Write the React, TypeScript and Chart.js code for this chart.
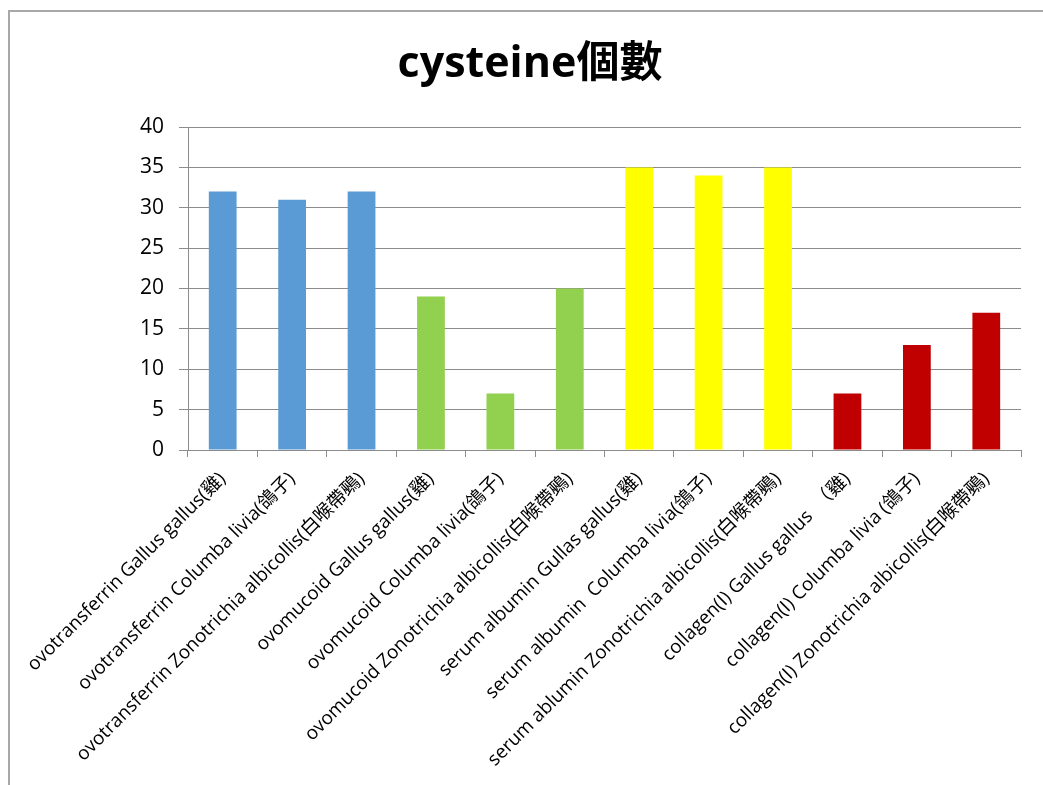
import React, { useEffect, useRef } from "react";
import { Chart, registerables } from "chart.js";

Chart.register(...registerables);

// Protein / species categories along the x axis
const categories: string[] = [
  "ovotransferrin Gallus gallus(雞)",
  "ovotransferrin Columba livia(鴿子)",
  "ovotransferrin Zonotrichia albicollis(白喉帶鵐)",
  "ovomucoid Gallus gallus(雞)",
  "ovomucoid Columba livia(鴿子)",
  "ovomucoid Zonotrichia albicollis(白喉帶鵐)",
  "serum albumin Gullas gallus(雞)",
  "serum albumin  Columba livia(鴿子)",
  "serum ablumin Zonotrichia albicollis(白喉帶鵐)",
  "collagen(I) Gallus gallus  （雞)",
  "collagen(I) Columba livia (鴿子)",
  "collagen(I) Zonotrichia albicollis(白喉帶鵐)",
];

// Number of cysteine residues per protein
const cysteineCounts: number[] = [32, 31, 32, 19, 7, 20, 35, 34, 35, 7, 13, 17];

// Protein group of each bar (0 ovotransferrin, 1 ovomucoid, 2 serum albumin, 3 collagen)
const proteinGroup: number[] = [0, 0, 0, 1, 1, 1, 2, 2, 2, 3, 3, 3];

const yTicks = { min: 0, max: 40, step: 5 };

const chartTitle = "cysteine個數";

const groupColors = ["#5B9BD5", "#92D050", "#FFFF00", "#C00000"];

const LATIN = "'Open Sans', 'Noto Sans CJK TC', sans-serif";
const GRID = "#8C8C8C";

const CANVAS_W = 1033;
const CANVAS_H = 773;

// Title drawn centred over the whole chart frame
const frameTitle = {
  id: "frameTitle",
  afterDraw(chart: any) {
    const ctx = chart.ctx;
    ctx.save();
    ctx.fillStyle = "#000000";
    ctx.font = `bold 43px ${LATIN}`;
    ctx.textAlign = "center";
    ctx.textBaseline = "middle";
    ctx.fillText(chartTitle, 520, 53);
    ctx.restore();
  },
};

export default function App() {
  const canvasRef = useRef<HTMLCanvasElement | null>(null);

  useEffect(() => {
    const canvas = canvasRef.current;
    if (!canvas) return;
    const chart = new Chart(canvas, {
      type: "bar",
      data: {
        labels: categories,
        datasets: [
          {
            data: cysteineCounts,
            backgroundColor: proteinGroup.map((g) => groupColors[g]),
            borderWidth: 0,
            barPercentage: 0.4,
            categoryPercentage: 1,
          },
        ],
      },
      plugins: [frameTitle],
      options: {
        responsive: false,
        animation: false,
        layout: { padding: { left: 0, right: 22, top: 115, bottom: 0 } },
        plugins: {
          legend: { display: false },
          tooltip: { enabled: false },
          title: { display: false },
        },
        scales: {
          x: {
            offset: true,
            grid: {
              offset: true,
              drawOnChartArea: false,
              drawTicks: true,
              tickLength: 7,
              color: GRID,
            },
            border: { color: GRID, width: 1 },
            ticks: {
              autoSkip: false,
              minRotation: 45,
              maxRotation: 45,
              color: "#000000",
              padding: 11,
              font: { family: LATIN, size: 18.9 },
            },
            afterFit: (scale: any) => {
              scale.height = 335;
            },
          },
          y: {
            min: yTicks.min,
            max: yTicks.max,
            grid: { color: GRID, tickLength: 9, lineWidth: 1 },
            border: { color: GRID, width: 1 },
            ticks: {
              stepSize: yTicks.step,
              color: "#000000",
              padding: 15,
              font: { family: LATIN, size: 21 },
            },
            afterFit: (scale: any) => {
              scale.width = 178;
            },
          },
        },
      },
    });
    return () => chart.destroy();
  }, []);

  return (
    <div
      style={{
        position: "fixed",
        left: 8,
        top: 10,
        width: CANVAS_W + 10,
        height: CANVAS_H + 10,
        borderLeft: "2px solid #A8A8A8",
        borderTop: "2px solid #A8A8A8",
        background: "#ffffff",
      }}
    >
      <canvas
        ref={canvasRef}
        width={CANVAS_W}
        height={CANVAS_H}
        style={{ display: "block", width: CANVAS_W, height: CANVAS_H }}
      />
    </div>
  );
}
